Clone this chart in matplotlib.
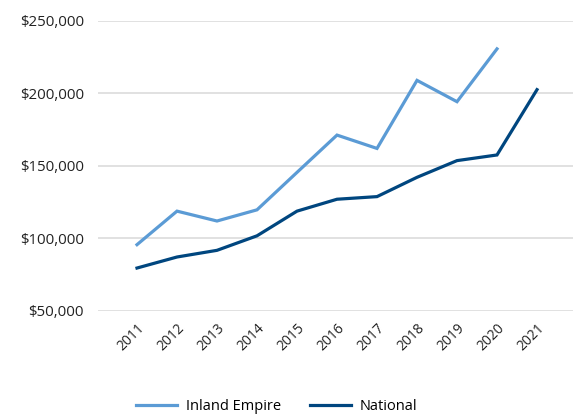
import matplotlib
matplotlib.use("Agg")
import matplotlib.pyplot as plt
from matplotlib.ticker import FuncFormatter

years = ["2011", "2012", "2013", "2014", "2015", "2016", "2017", "2018", "2019", "2020", "2021"]
inland_empire = [95700, 118800, 112000, 119700, 145500, 171200, 162000, 208900, 194200, 230600]
national = [79600, 87200, 91800, 101800, 118800, 127000, 128800, 142100, 153600, 157500, 202500]

plt.rcParams['font.family'] = ['Open Sans', 'DejaVu Sans']

fig = plt.figure(figsize=(5.73, 4.18), dpi=100)
ax = fig.add_axes([98/573, 1 - 311/418, 475/573, (311 - 20.7)/418])

x_ie = list(range(len(inland_empire)))
x_nat = list(range(len(national)))
ax.plot(x_ie, inland_empire, color="#5B9BD5", lw=2.3, label="Inland Empire", solid_joinstyle="miter")
ax.plot(x_nat, national, color="#00467F", lw=2.3, label="National", solid_joinstyle="miter")

ax.set_ylim(50000, 250000)
ax.set_yticks([50000, 100000, 150000, 200000, 250000])
ax.yaxis.set_major_formatter(FuncFormatter(lambda v, p: f"${v:,.0f}"))
ax.set_xlim(-0.975, 10.9)
ax.set_xticks(range(len(years)))
ax.set_xticklabels(years, rotation=45, ha="right", va="top", rotation_mode="anchor")

ax.grid(axis="y", color="#d9d9d9", lw=1.1)
ax.set_axisbelow(True)
for s in ax.spines.values():
    s.set_visible(False)
ax.tick_params(axis="both", length=0, labelsize=10, colors="#222222")
ax.tick_params(axis="y", pad=10, labelsize=10.8)
ax.tick_params(axis="x", pad=7)

fig.legend(loc="center", bbox_to_anchor=(277/573, 1 - 407/418), ncol=2, frameon=False,
           fontsize=10.5, handlelength=2.8, columnspacing=2.0, handletextpad=0.6)

fig.savefig("out.png", dpi=100)
